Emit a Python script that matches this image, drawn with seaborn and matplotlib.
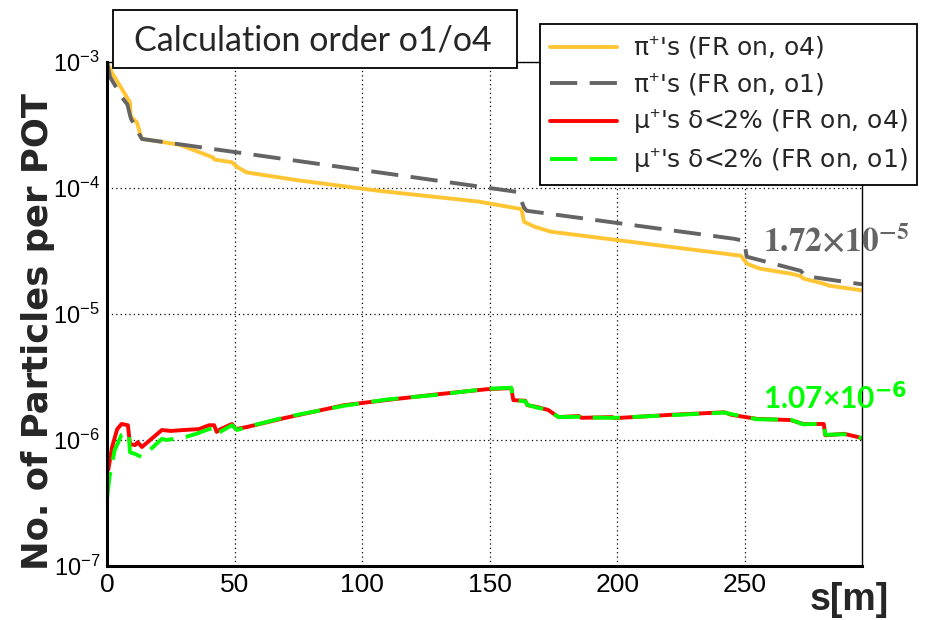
import numpy as np
import pandas as pd
import matplotlib
matplotlib.use("Agg")
import matplotlib.pyplot as plt
import seaborn as sns
from matplotlib.patches import Rectangle
from matplotlib.ticker import FixedLocator, FuncFormatter, LogLocator, NullFormatter

# ---------------- data ----------------
pi_o4_s = [0, 1, 2, 5, 9, 9.3, 11.8, 13.0, 13.7, 20, 28.5, 34, 41.5, 42.2, 49, 51, 54.7,
           75, 106.6, 145.7, 162.5, 163.5, 166, 168, 174, 248.5, 251, 256, 268, 272, 273,
           281, 283, 296]
pi_o4_v = [1.0e-3, 9.0e-4, 8.2e-4, 6.5e-4, 4.8e-4, 3.7e-4, 3.3e-4, 2.7e-4, 2.45e-4, 2.35e-4,
           2.2e-4, 2.0e-4, 1.75e-4, 1.68e-4, 1.6e-4, 1.47e-4, 1.33e-4, 1.15e-4, 9.5e-5,
           7.8e-5, 6.8e-5, 5.4e-5, 5.1e-5, 4.9e-5, 4.5e-5, 2.9e-5, 2.5e-5, 2.29e-5, 2.09e-5,
           2.0e-5, 1.91e-5, 1.74e-5, 1.68e-5, 1.54e-5]

pi_o1_s = [0, 1.2, 6, 8, 9, 9.5, 11.7, 12.5, 13.7, 161, 163.5, 164.5, 246, 249.8, 250.8,
           272, 273.8, 296]
pi_o1_v = [1.0e-3, 7.6e-4, 5.2e-4, 4.6e-4, 3.8e-4, 3.5e-4, 3.0e-4, 2.7e-4, 2.45e-4, 9.3e-5,
           7.0e-5, 6.6e-5, 3.95e-5, 3.8e-5, 2.85e-5, 2.2e-5, 2.0e-5, 1.72e-5]

mu_o4_s = [0.5, 2, 4, 5.7, 8.2, 9, 11, 12, 13.7, 21.5, 25, 30, 36, 40, 42, 43, 44.5, 49, 50.5,
           55, 70, 93, 110, 130, 149, 158.5, 159.3, 164, 164.8, 169, 173, 177, 185, 186, 198,
           199, 220, 242, 245, 255, 268, 273, 281, 281.6, 289, 294, 296]
mu_o4_v = [5.8e-7, 8.8e-7, 1.22e-6, 1.34e-6, 1.31e-6, 9.3e-7, 9.1e-7, 9.6e-7, 8.8e-7, 1.2e-6,
           1.18e-6, 1.2e-6, 1.22e-6, 1.31e-6, 1.31e-6, 1.16e-6, 1.22e-6, 1.34e-6, 1.22e-6,
           1.27e-6, 1.5e-6, 1.89e-6, 2.08e-6, 2.31e-6, 2.53e-6, 2.58e-6, 2.07e-6, 2.05e-6,
           1.89e-6, 1.82e-6, 1.73e-6, 1.52e-6, 1.55e-6, 1.5e-6, 1.52e-6, 1.49e-6, 1.58e-6,
           1.66e-6, 1.58e-6, 1.47e-6, 1.44e-6, 1.34e-6, 1.34e-6, 1.09e-6, 1.12e-6, 1.06e-6,
           1.03e-6]

mu_o1_s = [0, 1, 3, 5.7, 8.5, 9, 11, 13.7, 21.5, 23.4, 31, 35, 40, 42, 43, 49, 51, 55, 70, 93,
           110, 130, 149, 158.5, 159.3, 164, 164.8, 169, 173, 177, 185, 186, 198, 199, 220,
           242, 245, 255, 268, 273, 281, 281.6, 289, 294, 296]
mu_o1_v = [3.4e-7, 5.1e-7, 8.3e-7, 1.1e-6, 1.16e-6, 8.0e-7, 7.75e-7, 7.3e-7, 1.02e-6, 1.0e-6,
           1.06e-6, 1.12e-6, 1.22e-6, 1.25e-6, 1.12e-6, 1.31e-6, 1.2e-6, 1.27e-6, 1.52e-6,
           1.87e-6, 2.1e-6, 2.29e-6, 2.55e-6, 2.6e-6, 2.07e-6, 2.03e-6, 1.9e-6, 1.8e-6,
           1.74e-6, 1.52e-6, 1.53e-6, 1.51e-6, 1.5e-6, 1.5e-6, 1.57e-6, 1.65e-6, 1.6e-6,
           1.46e-6, 1.45e-6, 1.33e-6, 1.35e-6, 1.1e-6, 1.11e-6, 1.07e-6, 1.03e-6]

labels = ["π$^{+}$'s (FR on, o4)", "π$^{+}$'s (FR on, o1)",
          "μ$^{+}$'s δ<2% (FR on, o4)", "μ$^{+}$'s δ<2% (FR on, o1)"]
x_ticks = [0, 50, 100, 150, 200, 250]
title_text = "Calculation order o1/o4"
xlabel = "s[m]"
ylabel = "No. of Particles per POT"
end_pi = "1.72"
end_mu = "1.07"

# ---------------- style ----------------
sns.set_style("white")
plt.rcParams["font.family"] = ["Liberation Sans", "DejaVu Sans"]
plt.rcParams["mathtext.fontset"] = "custom"
plt.rcParams["mathtext.rm"] = "Liberation Sans"
plt.rcParams["mathtext.it"] = "Liberation Sans:italic"
plt.rcParams["mathtext.bf"] = "Liberation Sans:bold"

fig = plt.figure(figsize=(9.32, 6.20), dpi=100)
ax = fig.add_axes([107 / 932, 1 - 566 / 620, (862 - 107) / 932, (566 - 62) / 620])

colors = ["#FFC533", "#646464", "#FF0000", "#00FF00"]
dash = (0, (7, 3.2))
series = [(pi_o4_s, pi_o4_v, "-"), (pi_o1_s, pi_o1_v, dash),
          (mu_o4_s, mu_o4_v, "-"), (mu_o1_s, mu_o1_v, dash)]
handles = []
for (s, v, ls), c, lab in zip(series, colors, labels):
    df = pd.DataFrame({"s": s, "v": v})
    sns.lineplot(data=df, x="s", y="v", ax=ax, color=c, linewidth=2.8,
                 linestyle=ls, estimator=None, sort=False, label=lab, legend=False)
    handles.append(ax.lines[-1])

ax.set_yscale("log")
ax.set_xlim(0, 296)
ax.set_ylim(1e-7, 1e-3)

ax.xaxis.set_major_locator(FixedLocator(x_ticks))
ax.xaxis.set_minor_locator(FixedLocator(np.arange(0, 297, 10)))
ax.yaxis.set_major_locator(LogLocator(base=10, numticks=10))
ax.yaxis.set_minor_locator(LogLocator(base=10, subs=np.arange(2, 10), numticks=20))
ax.yaxis.set_minor_formatter(NullFormatter())
ax.yaxis.set_major_formatter(FuncFormatter(lambda v, p: r"$10^{%d}$" % int(round(np.log10(v)))))

ax.grid(True, which="major", color="black", linestyle=(0, (1, 2.5)), linewidth=0.9)
ax.tick_params(axis="both", which="both", direction="in", top=False, right=False,
               colors="black")
ax.tick_params(axis="y", which="major", length=15, width=1.5, pad=5, labelsize=17)
ax.tick_params(axis="y", which="minor", length=8, width=1.2)
ax.tick_params(axis="x", which="major", length=10, width=1.2, pad=5, labelsize=19)
ax.tick_params(axis="x", which="minor", length=5, width=1.0)
for lab in ax.get_xticklabels():
    lab.set_family(["Liberation Sans Narrow", "Liberation Sans"])

for sp in ["left", "bottom"]:
    ax.spines[sp].set_linewidth(2.2)
    ax.spines[sp].set_color("black")
for sp in ["top", "right"]:
    ax.spines[sp].set_linewidth(1.0)
    ax.spines[sp].set_color("black")

ax.set_xlabel("")
ax.set_ylabel("")
fig.text(38 / 932, 1 - 331 / 620, ylabel, rotation=90, ha="center", va="center",
         fontsize=25.5, fontweight="bold", family=["DejaVu Sans"])
fig.text(889 / 932, 1 - 600 / 620, xlabel, ha="right", va="center",
         fontsize=27, fontweight="bold")

# end-value annotations
fig.text(763 / 932, 1 - 242 / 620, r"$\mathbf{%s{\times}10^{-5}}$" % end_pi,
         color="#646464", fontsize=24, ha="left", va="center", math_fontfamily="stix",
         zorder=6)
fig.text(763 / 932, 1 - 398 / 620, end_mu + "×10$^{\\mathbf{-6}}$", color="#00FF00",
         fontsize=21.5, fontweight="bold", family=["Lato", "DejaVu Sans"], ha="left",
         va="center", math_fontfamily="dejavusans", zorder=6)

# title box
fig.add_artist(Rectangle((113 / 932, 1 - 68 / 620), (517 - 113) / 932, (68 - 10) / 620,
                         transform=fig.transFigure, facecolor="white", edgecolor="black",
                         linewidth=1.3, zorder=5))
fig.text(313 / 932, 1 - 40 / 620, title_text, ha="center", va="center", fontsize=24.5,
         family=["Lato", "DejaVu Sans"], zorder=6)

# legend
leg = fig.legend(handles=handles, labels=labels, loc="upper left",
                 bbox_to_anchor=(540 / 932, 1 - 24 / 620),
                 prop={"family": ["DejaVu Sans"], "size": 18}, frameon=True,
                 fancybox=False, edgecolor="black", framealpha=1, handlelength=2.7,
                 handletextpad=0.65, labelspacing=0.38, borderpad=0.38, borderaxespad=0)
leg.get_frame().set_linewidth(1.3)
leg.set_zorder(6)

fig.savefig("out.png", dpi=100)
